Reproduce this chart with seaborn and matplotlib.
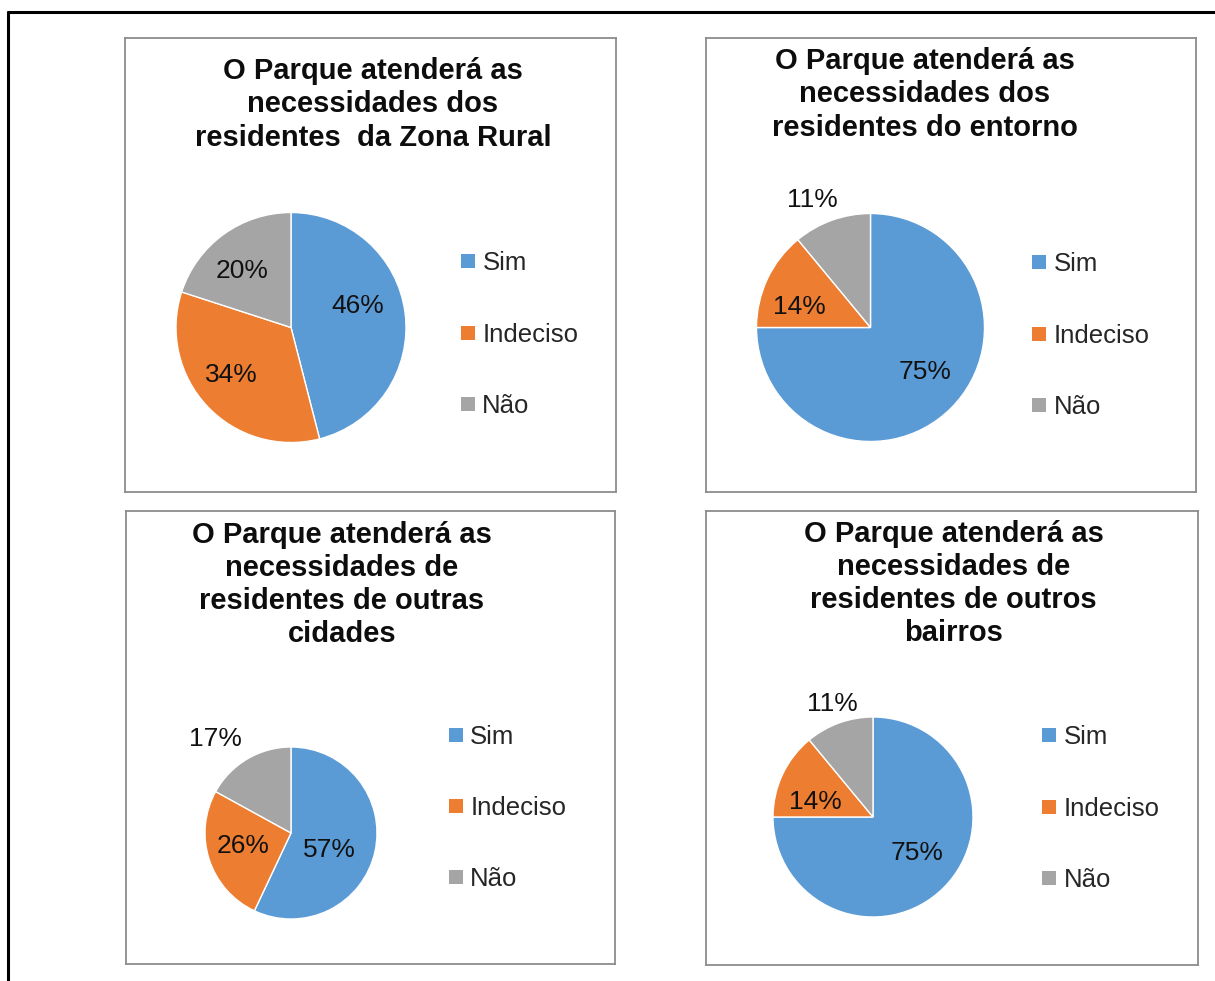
import matplotlib
matplotlib.use("Agg")
import matplotlib.pyplot as plt
from matplotlib.lines import Line2D
import numpy as np
import seaborn as sns

# Data
categories = ["Sim", "Indeciso", "Não"]
zona_rural = [46, 34, 20]
entorno = [75, 14, 11]
outras_cidades = [57, 26, 17]
outros_bairros = [75, 14, 11]

titles = [
    "O Parque atenderá as\nnecessidades dos\nresidentes  da Zona Rural",
    "O Parque atenderá as\nnecessidades dos\nresidentes do entorno",
    "O Parque atenderá as\nnecessidades de\nresidentes de outras\ncidades",
    "O Parque atenderá as\nnecessidades de\nresidentes de outros\nbairros",
]

sns.set_theme(style="white")
plt.rcParams["font.family"] = ["Liberation Sans", "DejaVu Sans"]
colors = sns.color_palette(["#5B9BD5", "#ED7D31", "#A5A5A5"])

W, H = 1215, 981
fig = plt.figure(figsize=(W / 100, H / 100), dpi=100)
fig.patch.set_facecolor("white")

# layout of each panel in image pixels (y measured from top of panel)
# dist / shift: label distance (in radii) and angle nudge from the wedge middle
panels = [
    dict(values=zona_rural, title=titles[0], box=(125, 38, 491, 454),
         center=(166, 289.5), r=115, title_x=248, title_base=41.3,
         leg=(336.3, 296.5), dist=[0.61, 0.66, 0.65], shift=[10.7, -4.4, 4.8]),
    dict(values=entorno, title=titles[1], box=(706, 38, 490, 454),
         center=(164.5, 289.5), r=114, title_x=219, title_base=31.3,
         leg=(326.4, 297.5), dist=[0.62, 0.65, 1.23], shift=[6, 9, 4.7]),
    dict(values=outras_cidades, title=titles[2], box=(126, 511, 489, 453),
         center=(165, 322), r=86, title_x=216, title_base=31.7,
         leg=(323.1, 297), dist=[0.49, 0.58, 1.40], shift=[-11, -3, 8]),
    dict(values=outros_bairros, title=titles[3], box=(706, 511, 492, 454),
         center=(167, 306), r=100, title_x=247.5, title_base=30.7,
         leg=(336.6, 297.5), dist=[0.57, 0.60, 1.20], shift=[6, 10.5, 0]),
]

for p in panels:
    left, top, w, h = p["box"]
    ax = fig.add_axes([left / W, 1 - (top + h) / H, w / W, h / H])
    cx, cy = p["center"]
    wedges, _ = ax.pie(p["values"], colors=colors, startangle=90, counterclock=False,
                       center=(cx, h - cy), radius=p["r"], frame=True,
                       wedgeprops=dict(edgecolor="white", linewidth=1))
    ax.set_xlim(0, w)
    ax.set_ylim(0, h)
    ax.set_aspect("auto")
    ax.set_xticks([])
    ax.set_yticks([])
    for s in ax.spines.values():
        s.set_color("#8c8c8c")
        s.set_linewidth(1.3)

    # percentage labels
    for wdg, v, d, sh in zip(wedges, p["values"], p["dist"], p["shift"]):
        ang = np.deg2rad((wdg.theta1 + wdg.theta2) / 2 + sh)
        ax.text(cx + d * p["r"] * np.cos(ang), h - cy + d * p["r"] * np.sin(ang),
                f"{v}%", ha="center", va="center", fontsize=19, color="#111111")

    # title, one line at a time
    for i, line in enumerate(p["title"].split("\n")):
        ax.text(p["title_x"], h - (p["title_base"] + i * 33.2), line, ha="center",
                va="baseline", fontsize=21, fontweight="bold", color="#0d0d0d")

    handles = [Line2D([], [], marker="s", ls="", color=c, markersize=9.5, markeredgewidth=0)
               for c in colors]
    lx, ly = p["leg"]
    ax.legend(handles, categories, loc="center left", bbox_to_anchor=(lx / w, 1 - ly / h),
              frameon=False, borderpad=0, borderaxespad=0, handlelength=0.5,
              handletextpad=0.32, labelspacing=1.83, fontsize=18.5)

# outer black frame (top and left edges visible)
fig.add_artist(Line2D([8 / W, 8 / W], [0, 1 - 12 / H], color="black", lw=2.2))
fig.add_artist(Line2D([8 / W, 1], [1 - 12 / H, 1 - 12 / H], color="black", lw=2.2))

fig.savefig("out.png", dpi=100, facecolor="white")
